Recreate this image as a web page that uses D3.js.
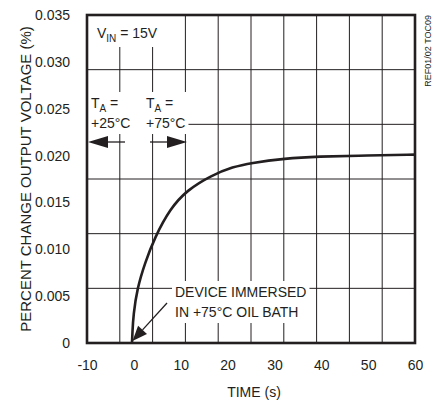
<!DOCTYPE html>
<html>
<head>
<meta charset="utf-8">
<script src="https://cdn.jsdelivr.net/npm/d3@7"></script>
<style>
  html, body { margin: 0; padding: 0; background: #fff; }
  svg { display: block; font-family: "Liberation Sans", Arial, sans-serif; }
</style>
</head>
<body>
<svg id="chart" width="436" height="402"></svg>
<script>
// values
const timeS = [-0.4, -0.3, -0.1, 0.7, 2.4, 4.5, 7.7, 11.3, 16.6, 21.2, 24.8, 32.3, 39.1, 50, 60];
const pctChange = [0, 0.0012, 0.0030, 0.0058, 0.0086, 0.0113, 0.0143, 0.0163, 0.0179, 0.0188, 0.0192, 0.0197, 0.0199, 0.0200, 0.0201];
const xTicks = [-10, 0, 10, 20, 30, 40, 50, 60];
const xTickLabels = ["-10", "0", "10", "20", "30", "40", "50", "60"];
const yTicks = [0, 0.005, 0.010, 0.015, 0.020, 0.025, 0.030, 0.035];
const yTickLabels = ["0", "0.005", "0.010", "0.015", "0.020", "0.025", "0.030", "0.035"];

(function drawChart() {
  const ink = "#231f20";
  const svg = d3.select("#chart");
  const pLeft = 87, pRight = 415, pTop = 15, pBottom = 343;

  const x = d3.scaleLinear().domain([-10, 60]).range([pLeft, pRight]);
  const y = d3.scaleLinear().domain([0, 0.035]).range([pBottom, pTop]);
  // the grid in the original does not line up with the ticks: 10 x 6 cells
  const gx = d3.scaleLinear().domain([0, 10]).range([pLeft, pRight]);
  const gy = d3.scaleLinear().domain([0, 6]).range([pBottom, pTop]);

  const grid = svg.append("g").attr("stroke", ink).attr("stroke-width", 1);
  d3.range(1, 10).forEach(i => {
    grid.append("line").attr("x1", gx(i)).attr("x2", gx(i)).attr("y1", pTop).attr("y2", pBottom);
  });
  d3.range(1, 6).forEach(i => {
    grid.append("line").attr("x1", pLeft).attr("x2", pRight).attr("y1", gy(i)).attr("y2", gy(i));
  });

  // annotation layers (white boxes hide the grid behind the text)
  const boxes = svg.append("g");
  const notes = svg.append("g").attr("fill", ink).style("font-size", "14px");

  function note(tx, ty, main, sub, rest) {
    const t = notes.append("text").attr("x", tx).attr("y", ty);
    t.append("tspan").text(main);
    if (sub) {
      t.append("tspan").attr("dy", 4).style("font-size", "10px").text(sub);
      t.append("tspan").attr("dy", -4).text(rest);
    }
    return t;
  }

  const vin = note(97, 38, "V", "IN", " = 15V");
  const ta1 = note(91, 108, "T", "A", " =");
  const ta1b = note(91, 128, "+25°C");
  const ta2 = note(146, 108, "T", "A", " =");
  const ta2b = note(146, 128, "+75°C");
  const dev1 = note(175, 297, "DEVICE IMMERSED");
  const dev2 = note(175, 317, "IN +75°C OIL BATH");

  function boxAround(nodes, pad, extend) {
    const bb = nodes.map(n => n.node().getBBox());
    let x0 = d3.min(bb, b => b.x) - pad, x1 = d3.max(bb, b => b.x + b.width) + pad;
    let y0 = d3.min(bb, b => b.y) - pad, y1 = d3.max(bb, b => b.y + b.height) + pad;
    if (extend && extend.left) x0 = pLeft;
    if (extend && extend.top) y0 = pTop;
    boxes.append("rect").attr("x", x0).attr("y", y0)
      .attr("width", x1 - x0).attr("height", y1 - y0).attr("fill", "#fff");
  }
  boxAround([vin], 3, { left: true, top: true });
  boxAround([ta1, ta1b, ta2, ta2b], 3, { left: true });
  boxAround([dev1, dev2], 3);

  // curve
  const line = d3.line()
    .x((d, i) => x(timeS[i]))
    .y(d => y(d))
    .curve(d3.curveBasis);
  svg.append("path")
    .datum(pctChange)
    .attr("d", line)
    .attr("fill", "none")
    .attr("stroke", ink)
    .attr("stroke-width", 2.6);

  // arrows
  function arrow(x1, y1, x2, y2, len, half) {
    const a = Math.atan2(y2 - y1, x2 - x1);
    const bx = x2 - len * Math.cos(a), by = y2 - len * Math.sin(a);
    svg.append("line").attr("x1", x1).attr("y1", y1).attr("x2", bx).attr("y2", by)
      .attr("stroke", ink).attr("stroke-width", 1.3);
    const px = -Math.sin(a) * half, py = Math.cos(a) * half;
    svg.append("path")
      .attr("d", `M${x2},${y2}L${bx + px},${by + py}L${bx - px},${by - py}Z`)
      .attr("fill", ink);
  }
  arrow(125, 142, pLeft + 1, 142, 20, 6);
  arrow(150, 142, 187, 142, 20, 6);
  arrow(167, 303, x(-0.3), pBottom - 2, 15, 6);

  // frame
  svg.append("rect")
    .attr("x", pLeft).attr("y", pTop)
    .attr("width", pRight - pLeft).attr("height", pBottom - pTop)
    .attr("fill", "none").attr("stroke", ink).attr("stroke-width", 2.6);

  // axes
  const xAxis = svg.append("g")
    .attr("transform", `translate(0,${pBottom})`)
    .call(d3.axisBottom(x).tickValues(xTicks).tickSize(0).tickPadding(17)
      .tickFormat((d, i) => xTickLabels[i]));
  const yAxis = svg.append("g")
    .attr("transform", `translate(${pLeft},0)`)
    .call(d3.axisLeft(y).tickValues(yTicks).tickSize(0).tickPadding(17)
      .tickFormat((d, i) => yTickLabels[i]));
  [xAxis, yAxis].forEach(a => {
    a.select(".domain").remove();
    a.selectAll("text").attr("fill", ink)
      .style("font-size", "14px").style("font-family", "'Liberation Sans', Arial, sans-serif");
  });

  svg.append("text")
    .attr("x", (pLeft + pRight) / 2 + 3).attr("y", 397)
    .attr("text-anchor", "middle").attr("fill", ink)
    .style("font-size", "14px")
    .text("TIME (s)");

  svg.append("text")
    .attr("transform", `translate(31,${(pTop + pBottom) / 2}) rotate(-90)`)
    .attr("text-anchor", "middle").attr("fill", ink)
    .style("font-size", "15px")
    .text("PERCENT CHANGE OUTPUT VOLTAGE (%)");

  svg.append("text")
    .attr("transform", `translate(431,${pTop}) rotate(-90)`)
    .attr("text-anchor", "end").attr("fill", ink)
    .style("font-size", "9px")
    .text("REF01/02 TOC09");
})();
</script>
</body>
</html>
